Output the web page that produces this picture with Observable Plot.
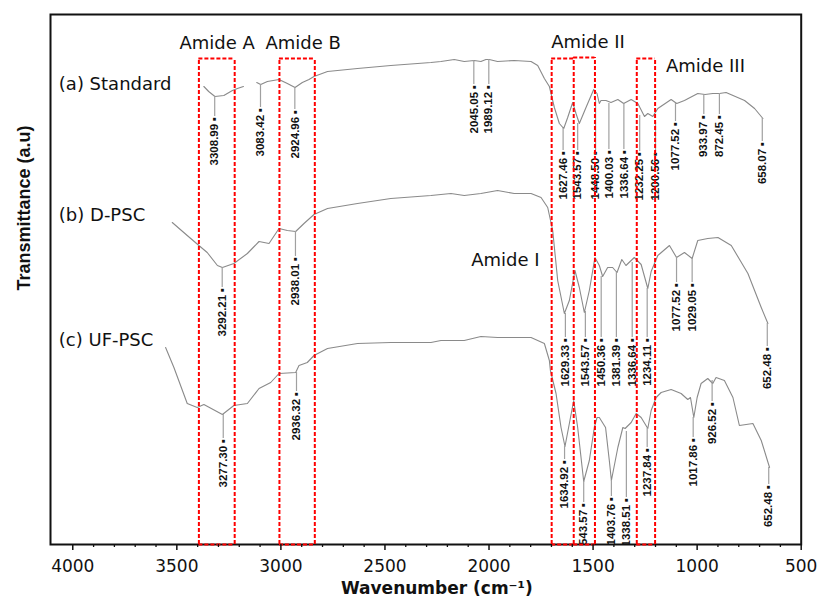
<!DOCTYPE html>
<html><head><meta charset="utf-8">
<script src="https://cdn.jsdelivr.net/npm/d3@7"></script>
<script src="https://cdn.jsdelivr.net/npm/@observablehq/plot@0.6"></script>
<style>body{margin:0;background:#fff}</style>
</head><body><div id="chart"></div>
<script>
// ---- Spectra (wavenumber, transmittance in arbitrary units) ----
const stdWn = [3370,3347,3317,3274,3233,3209,3180,3150,3116,3097,3065,3009,2969,2932,2897,2865,2841,2776,2632,2472,2279,2231,2167,2119,2071,2039,2015,1999,1959,1879,1798,1766,1734,1710,1686,1662,1641,1622,1598,1582,1566,1534,1497,1481,1470,1462,1438,1414,1381,1353,1317,1285,1253,1237,1213,1189,1125,1098,1061,997,962,925,893,861,772,724,684];
const stdT = [458,453,448,449,454,456,458,null,462,460,463,465,461,457,462,465,468,473,476,479,482,483,485,483,484,483,485,485,483,484,483,479,466,458,437,421,416,427,442,431,421,437,455,451,441,444,444,442,445,441,445,441,428,431,428,436,445,441,444,451,450,451,451,452,444,436,426];

const dpscWn = [3522,3450,3394,3354,3305,3281,3226,3161,3105,3057,3009,2969,2929,2889,2841,2776,2632,2472,2279,2183,2119,2039,1959,1879,1798,1750,1718,1694,1670,1638,1614,1587,1566,1542,1518,1491,1470,1454,1430,1406,1385,1362,1342,1302,1269,1237,1221,1189,1133,1099,1061,1024,997,949,900,836,756,692,660];
const dpscT = [322,309,299,292,279,277,281,291,303,301,316,314,313,321,330,336,341,346,349,351,349,351,354,351,351,347,337,314,264,231,244,274,257,232,254,287,279,268,277,277,272,285,279,287,280,256,273,289,299,287,292,286,304,306,307,299,271,237,221];

const ufWn = [3554,3514,3450,3402,3370,3281,3226,3161,3105,3049,3009,2929,2913,2873,2841,2776,2632,2472,2279,2231,2119,2039,1959,1798,1734,1710,1705,1678,1654,1635,1614,1593,1574,1545,1518,1494,1481,1470,1440,1422,1412,1381,1357,1346,1317,1293,1269,1237,1221,1197,1173,1125,1077,1045,1032,1016,1000,981,949,925,909,869,828,797,732,692,652];
const ufT = [197,177,141,137,140,130,139,141,156,162,171,172,179,182,189,196,201,202,202,204,204,208,207,207,201,184,174,151,117,98,121,144,117,63,84,117,127,127,117,84,64,97,117,116,122,131,127,116,134,147,152,155,151,145,147,127,147,161,166,161,167,164,147,119,121,104,77];

// ---- Peak annotations: [label, wavenumber, curve value, label top value] ----
const stdPeaks = [
  ["3308.99",3318,448,427],["3083.42",3098,460,436],["2924.96",2933,457,434],
  ["2045.05",2073,484,459],["1989.12",2001,485,459],["1627.46",1644,416,393],
  ["1543.57",1574,421,393],["1448.50",1488,444,393],["1400.03",1424,441,394],
  ["1336.64",1352,441,394],["1232.25",1276,429,392],["1200.56",1200,422,392],
  ["1077.52",1104,441,422],["933.97",968,450,429],["872.45",893,451,429],
  ["658.07",687,426,402]
];
const dpscPeaks = [
  ["3292.21",3282,277,256],["2938.01",2930,313,287],["1629.33",1633,231,206],
  ["1543.57",1537,233,206],["1450.36",1461,268,206],["1381.39",1388,272,206],
  ["1336.64",1312,282,206],["1234.11",1240,256,206],["1077.52",1099,287,261],
  ["1029.05",1024,286,261],["652.48",663,221,197]
];
const ufPeaks = [
  ["3277.30",3277,130,105],["2936.32",2925,172,152],["1634.92",1637,98,84],
  ["1543.57",1545,63,41],["1403.76",1412,64,47],["1338.51",1340,113,46],
  ["1237.84",1240,116,96],["1017.86",1019,127,106],["926.52",928,164,142],
  ["652.48",656,77,59]
];

// ---- Region boxes (left, right, top) and text ----
const boxX1 = [3394,3007,1699,1593,1290];
const boxX2 = [3222,2837,1593,1491,1202];
const boxTop = [486,486,486,487,486];
const regionNames = ["Amide A","Amide B","Amide II","Amide III","Amide I"];
const regionWn = [3306,2893,1524,960,1921];
const regionT = [501,501,502,478,284];
const sampleNames = ["(a) Standard","(b) D-PSC","(c) UF-PSC"];
const sampleT = [460,329,204.5];
const sampleWn = 4067;

const majorTicks = [4000,3500,3000,2500,2000,1500,1000,500];
const minorTicks = d3.range(3900, 500, -100).filter(v => v % 500 !== 0);

// ---- Build tables ----
const spectra = [
  ...stdWn.map((w,i)=>({wn:w, t:stdT[i], s:"a"})),
  ...dpscWn.map((w,i)=>({wn:w, t:dpscT[i], s:"b"})),
  ...ufWn.map((w,i)=>({wn:w, t:ufT[i], s:"c"}))
];
const peaks = [...stdPeaks, ...dpscPeaks, ...ufPeaks].map(p => ({label:p[0], wn:p[1], y1:p[2], y2:p[3]}));
// vertical box edges (shared edges drawn once) and horizontal edges
const vEdges = [];
boxX1.forEach((x,i) => {
  [x, boxX2[i]].forEach(e => {
    const prev = vEdges.find(v => v.x === e);
    if (prev) prev.top = Math.max(prev.top, boxTop[i]);
    else vEdges.push({x: e, top: boxTop[i]});
  });
});
const hEdges = boxX1.flatMap((x,i) => [{x1:x, x2:boxX2[i], y:boxTop[i]}, {x1:x, x2:boxX2[i], y:0}]);
const regions = regionNames.map((n,i)=>({n, wn:regionWn[i], t:regionT[i]}));
const samples = sampleNames.map((n,i)=>({n, wn:sampleWn, t:sampleT[i]}));

const red = {stroke: "#ff0000", strokeWidth: 2, strokeDasharray: "4,2"};

const chart = Plot.plot({
  width: 819, height: 598,
  marginLeft: 50, marginRight: 18.3, marginTop: 14, marginBottom: 54,
  x: {domain: [4107, 500], label: null},
  y: {domain: [0, 530], axis: null, label: null},
  style: {fontFamily: "DejaVu Sans, sans-serif", background: "#fff", overflow: "visible", color: "#111"},
  marks: [
    Plot.line(spectra, {x: "wn", y: "t", z: "s", stroke: "#8a8a8a", strokeWidth: 1.1}),
    Plot.ruleX(peaks, {x: "wn", y1: "y1", y2: d => d.y2 + 1, stroke: "#a0a0a0", strokeWidth: 1.2}),
    Plot.text(peaks, {x: "wn", y: "y2", text: d => d.label + "\u2009\u25AA", rotate: -90,
      textAnchor: "end", lineAnchor: "middle", fontSize: 11.5, fontWeight: "bold",
      fontFamily: "Liberation Sans, Arial, sans-serif", fill: "#111", clip: "frame"}),
    Plot.frame({stroke: "#111", strokeWidth: 2}),
    Plot.ruleX(vEdges, {x: "x", y1: d => 0, y2: "top", ...red}),
    Plot.ruleY(hEdges, {y: "y", x1: "x1", x2: "x2", ...red}),
    Plot.text(regions, {x: "wn", y: "t", text: "n", fontSize: 18, lineAnchor: "middle", fill: "#111"}),
    Plot.text(samples, {x: "wn", y: "t", text: "n", fontSize: 18, textAnchor: "start", lineAnchor: "middle", fill: "#111"}),
    Plot.axisX(minorTicks, {tickSize: 3, tickFormat: () => "", label: null, strokeWidth: 1.3}),
    Plot.axisX(majorTicks, {tickSize: 6, tickPadding: 9, tickFormat: "d", fontSize: 17, label: null, strokeWidth: 1.5}),
    Plot.text(["Wavenumber (cm\u207B\u00B9)"], {text: d => d, frameAnchor: "bottom", dx: 11, dy: 44,
      lineAnchor: "middle", fontSize: 17, fontWeight: "bold", fill: "#111"}),
    Plot.text(["Transmittance (a.u)"], {text: d => d, frameAnchor: "left", dx: -26, dy: 11, rotate: -90,
      lineAnchor: "middle", fontSize: 18, fontWeight: "bold", fontFamily: "Liberation Sans, Arial, sans-serif", fill: "#111"})
  ]
});
document.getElementById("chart").append(chart);
</script>
</body></html>
